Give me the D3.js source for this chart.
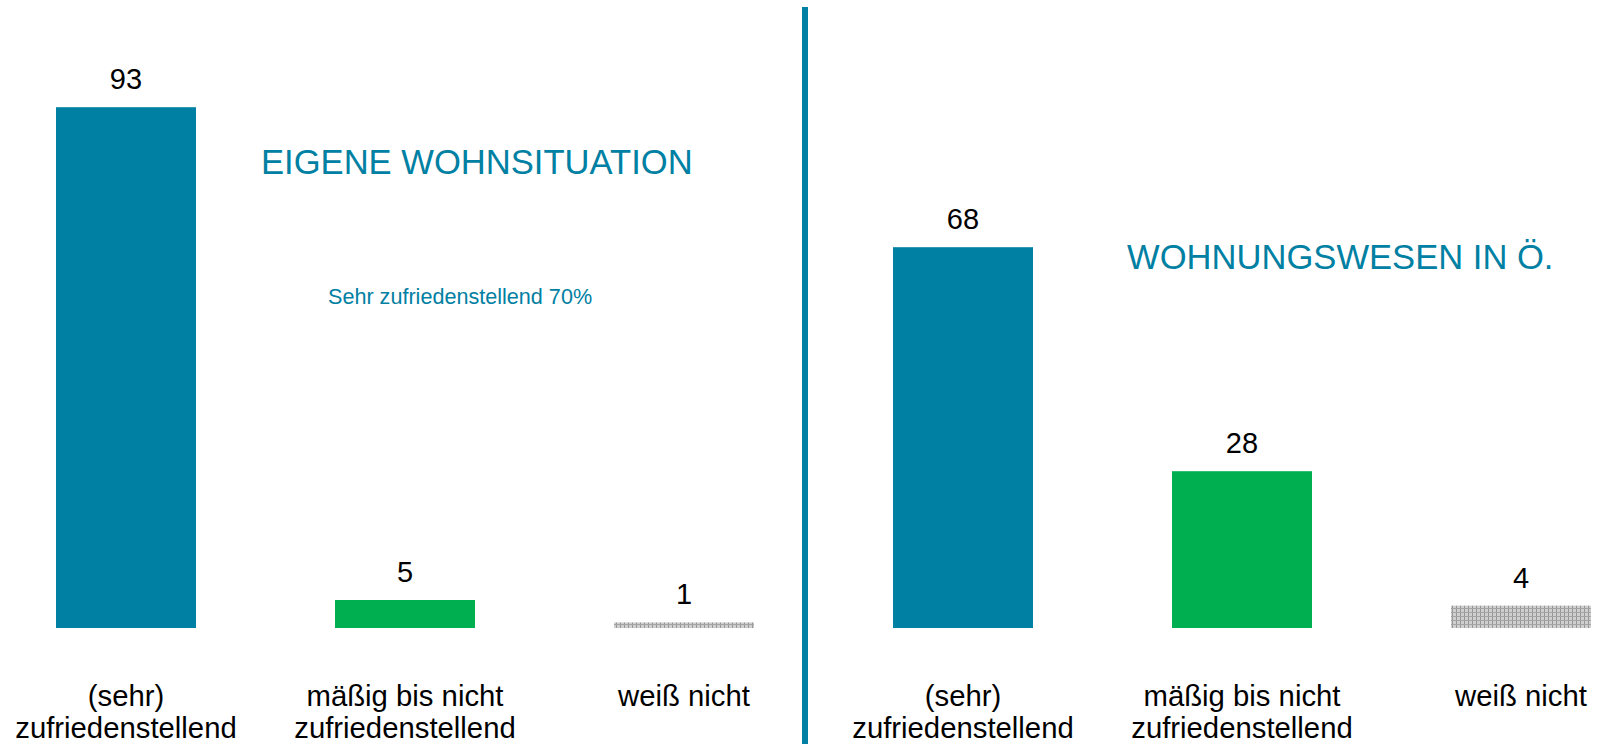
<!DOCTYPE html>
<html>
<head>
<meta charset="utf-8">
<script src="https://cdn.jsdelivr.net/npm/d3@7"></script>
<style>
  body { margin: 0; background: #fff; }
  svg { display: block; font-family: "Liberation Sans", Arial, sans-serif; }
</style>
</head>
<body>
<svg width="1598" height="744"></svg>
<script>
// data
const categories = ["(sehr) zufriedenstellend", "mäßig bis nicht zufriedenstellend", "weiß nicht"];
const categoryLines = [["(sehr)", "zufriedenstellend"], ["mäßig bis nicht", "zufriedenstellend"], ["weiß nicht"]];
const eigeneValues = [93, 5, 1];
const oesterreichValues = [68, 28, 4];
const panelTitles = ["EIGENE WOHNSITUATION", "WOHNUNGSWESEN IN Ö."];
const noteText = "Sehr zufriedenstellend 70%";

const teal = "#0080a2";
const green = "#00b050";

const svg = d3.select("svg");

// grey hatched fill for "weiß nicht"
const defs = svg.append("defs");
const pat = defs.append("pattern")
    .attr("id", "greyGrid")
    .attr("patternUnits", "userSpaceOnUse")
    .attr("width", 4)
    .attr("height", 4);
pat.append("rect").attr("width", 4).attr("height", 4).attr("fill", "#cfcfcf");
pat.append("rect").attr("x", 0).attr("y", 0).attr("width", 1).attr("height", 4).attr("fill", "#969696");
pat.append("rect").attr("x", 0).attr("y", 0).attr("width", 4).attr("height", 1).attr("fill", "#a4a4a4");

const fills = [teal, green, "url(#greyGrid)"];

const y = d3.scaleLinear().domain([0, 100]).range([628, 68]);

function drawPanel(values, x0, title, titleX, titleY) {
    const x = d3.scaleBand()
        .domain(categories)
        .range([x0, x0 + 698])
        .paddingInner(139 / 279)
        .paddingOuter(0);

    const g = svg.append("g");

    g.selectAll(".bar")
        .data(values)
        .enter()
        .append("rect")
        .attr("class", "bar")
        .attr("x", (d, i) => x(categories[i]))
        .attr("y", d => y(d))
        .attr("width", x.bandwidth())
        .attr("height", d => y(0) - y(d))
        .attr("fill", (d, i) => fills[i]);

    // value labels
    g.selectAll(".val")
        .data(values)
        .enter()
        .append("text")
        .attr("class", "val")
        .attr("x", (d, i) => x(categories[i]) + x.bandwidth() / 2)
        .attr("y", d => y(d) - 18)
        .attr("text-anchor", "middle")
        .style("font-size", "29px")
        .attr("fill", "#000")
        .text(d => d);

    // category labels
    const lab = g.selectAll(".cat")
        .data(categoryLines)
        .enter()
        .append("text")
        .attr("class", "cat")
        .attr("text-anchor", "middle")
        .style("font-size", "29.3px")
        .attr("fill", "#000");
    lab.selectAll("tspan")
        .data((d, i) => d.map(t => ({ t: t, i: i })))
        .enter()
        .append("tspan")
        .attr("x", d => x(categories[d.i]) + x.bandwidth() / 2)
        .attr("y", (d, j) => 706 + j * 32)
        .text(d => d.t);

    // titel
    svg.append("text")
        .attr("x", titleX)
        .attr("y", titleY)
        .style("font-size", "34.6px")
        .attr("fill", teal)
        .text(title);
}

drawPanel(eigeneValues, 56, panelTitles[0], 261, 174);
drawPanel(oesterreichValues, 893, panelTitles[1], 1127, 269);

// anmerkung
svg.append("text")
    .attr("x", 328)
    .attr("y", 304)
    .style("font-size", "21.6px")
    .attr("fill", teal)
    .text(noteText);

// trennlinie
svg.append("rect")
    .attr("x", 802)
    .attr("y", 7)
    .attr("width", 6)
    .attr("height", 737)
    .attr("fill", teal);
</script>
</body>
</html>
